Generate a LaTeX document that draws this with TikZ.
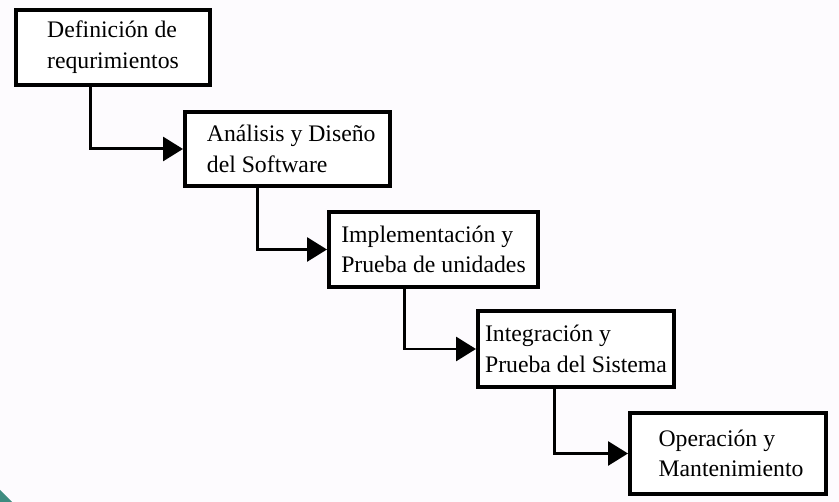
\documentclass[tikz,border=0pt]{standalone}
\usepackage{fontspec}
\setmainfont{Liberation Serif}
\usetikzlibrary{arrows.meta}
\definecolor{fondo}{RGB}{253,251,254}
\definecolor{esquina}{RGB}{62,140,128}

\begin{document}
\begin{tikzpicture}[x=0.02cm,y=-0.02cm,
  etapa/.style={draw,line width=2.3pt,fill=white,align=left,inner sep=0pt,
    font=\fontsize{13.5}{17.5}\selectfont},
  flecha/.style={line width=1.7pt,-{Triangle[length=0.4cm,width=0.48cm]}}]
\useasboundingbox (0,0) rectangle (839,502) ;
\fill [fondo] (0,0) rectangle (839,502) ;
\fill [esquina] (0,490) -- (12,502) -- (0,502) -- cycle ;

\node [etapa,minimum width=3.88cm,minimum height=1.5cm] (def) at (113,47.5) {Definición de\\requrimientos} ;
\node [etapa,minimum width=4.1cm,minimum height=1.48cm] (ana) at (287.5,149) {\hspace{0.15cm}Análisis y Diseño\\\hspace{0.15cm}del Software} ;
\node [etapa,minimum width=4.18cm,minimum height=1.5cm] (imp) at (433.5,249.5) {Implementación y\\Prueba de unidades} ;
\node [etapa,minimum width=3.92cm,minimum height=1.52cm] (int) at (576,349) {Integración y\\Prueba del Sistema} ;
\node [etapa,minimum width=3.92cm,minimum height=1.62cm] (ope) at (728,453.5) {\hspace{0.12cm}Operación y\\\hspace{0.12cm}Mantenimiento} ;

\draw [flecha] ([xshift=1.54cm]def.south west) |- (ana.west) ;
\draw [flecha] ([xshift=1.5cm]ana.south west) |- (imp.west) ;
\draw [flecha] ([xshift=1.56cm]imp.south west) |- (int.west) ;
\draw [flecha] ([xshift=1.58cm]int.south west) |- (ope.west) ;

\end{tikzpicture}
\end{document}
